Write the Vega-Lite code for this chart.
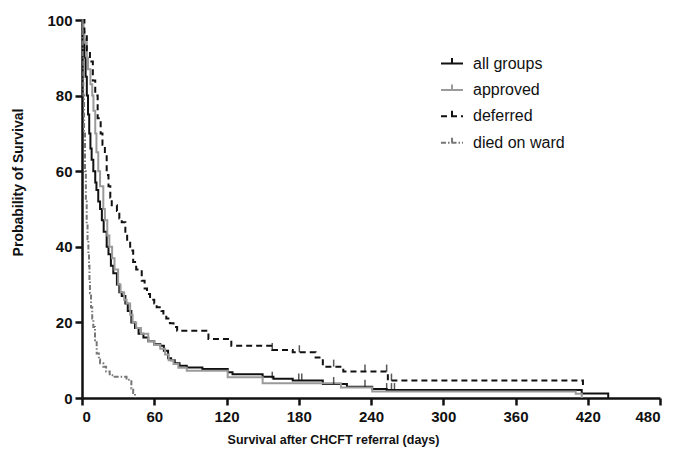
{
  "$schema": "https://vega.github.io/schema/vega-lite/v6.json",
  "autosize": {"type": "none"},
  "width": 578,
  "height": 378,
  "padding": {"left": 82, "top": 20, "right": 16, "bottom": 72},
  "background": "white",
  "config": {
    "view": {"stroke": null},
    "axis": {
      "grid": false,
      "domainColor": "#111",
      "domainWidth": 2.5,
      "tickColor": "#111",
      "tickWidth": 2.5,
      "labelFont": "Liberation Sans",
      "labelFontWeight": "bold",
      "labelFontSize": 15,
      "labelColor": "#111",
      "titleFont": "Liberation Sans",
      "titleFontWeight": "bold",
      "titleColor": "#111"
    }
  },
  "datasets": {
    "curves": [
      {"group": "all groups", "day": 0, "surv": 100},
      {"group": "all groups", "day": 1, "surv": 95},
      {"group": "all groups", "day": 2, "surv": 90},
      {"group": "all groups", "day": 3, "surv": 85},
      {"group": "all groups", "day": 4, "surv": 80},
      {"group": "all groups", "day": 5, "surv": 75},
      {"group": "all groups", "day": 6, "surv": 70},
      {"group": "all groups", "day": 7, "surv": 66},
      {"group": "all groups", "day": 8, "surv": 63},
      {"group": "all groups", "day": 9.4, "surv": 60},
      {"group": "all groups", "day": 11, "surv": 57},
      {"group": "all groups", "day": 12, "surv": 55},
      {"group": "all groups", "day": 13.5, "surv": 52},
      {"group": "all groups", "day": 15, "surv": 50},
      {"group": "all groups", "day": 16.5, "surv": 47},
      {"group": "all groups", "day": 18, "surv": 44},
      {"group": "all groups", "day": 20.5, "surv": 40},
      {"group": "all groups", "day": 22, "surv": 38},
      {"group": "all groups", "day": 24, "surv": 35},
      {"group": "all groups", "day": 26, "surv": 33},
      {"group": "all groups", "day": 29, "surv": 30},
      {"group": "all groups", "day": 31, "surv": 28},
      {"group": "all groups", "day": 33, "surv": 27},
      {"group": "all groups", "day": 36, "surv": 25},
      {"group": "all groups", "day": 38, "surv": 23},
      {"group": "all groups", "day": 41, "surv": 20},
      {"group": "all groups", "day": 44, "surv": 18.5},
      {"group": "all groups", "day": 47, "surv": 17},
      {"group": "all groups", "day": 51, "surv": 16},
      {"group": "all groups", "day": 55, "surv": 15},
      {"group": "all groups", "day": 60, "surv": 14.2},
      {"group": "all groups", "day": 65, "surv": 13.8},
      {"group": "all groups", "day": 68, "surv": 12.5},
      {"group": "all groups", "day": 71.5, "surv": 10.5},
      {"group": "all groups", "day": 74, "surv": 10},
      {"group": "all groups", "day": 77, "surv": 9.2},
      {"group": "all groups", "day": 81, "surv": 8.5},
      {"group": "all groups", "day": 87, "surv": 8.1},
      {"group": "all groups", "day": 100, "surv": 7.7},
      {"group": "all groups", "day": 121, "surv": 6.8},
      {"group": "all groups", "day": 125, "surv": 6.3},
      {"group": "all groups", "day": 150, "surv": 5.6},
      {"group": "all groups", "day": 159, "surv": 5.1},
      {"group": "all groups", "day": 175, "surv": 4.6},
      {"group": "all groups", "day": 200, "surv": 3.7},
      {"group": "all groups", "day": 220, "surv": 3.0},
      {"group": "all groups", "day": 241, "surv": 2.4},
      {"group": "all groups", "day": 253, "surv": 2.1},
      {"group": "all groups", "day": 415, "surv": 1.2},
      {"group": "all groups", "day": 437, "surv": 0},

      {"group": "approved", "day": 0, "surv": 100},
      {"group": "approved", "day": 1, "surv": 97},
      {"group": "approved", "day": 2, "surv": 94},
      {"group": "approved", "day": 4, "surv": 90},
      {"group": "approved", "day": 5, "surv": 87},
      {"group": "approved", "day": 7, "surv": 83},
      {"group": "approved", "day": 8.5, "surv": 80},
      {"group": "approved", "day": 9.5, "surv": 76},
      {"group": "approved", "day": 11, "surv": 70},
      {"group": "approved", "day": 12, "surv": 65},
      {"group": "approved", "day": 13.5, "surv": 60},
      {"group": "approved", "day": 15, "surv": 56},
      {"group": "approved", "day": 17.7, "surv": 50},
      {"group": "approved", "day": 19, "surv": 47},
      {"group": "approved", "day": 21, "surv": 43},
      {"group": "approved", "day": 22.7, "surv": 40},
      {"group": "approved", "day": 25, "surv": 37},
      {"group": "approved", "day": 27, "surv": 34},
      {"group": "approved", "day": 30, "surv": 30},
      {"group": "approved", "day": 32, "surv": 28},
      {"group": "approved", "day": 35, "surv": 26},
      {"group": "approved", "day": 37, "surv": 25},
      {"group": "approved", "day": 40, "surv": 22},
      {"group": "approved", "day": 42, "surv": 20},
      {"group": "approved", "day": 45, "surv": 18.5},
      {"group": "approved", "day": 49, "surv": 17},
      {"group": "approved", "day": 55, "surv": 15},
      {"group": "approved", "day": 60, "surv": 14},
      {"group": "approved", "day": 65, "surv": 13},
      {"group": "approved", "day": 69, "surv": 11.5},
      {"group": "approved", "day": 72, "surv": 10},
      {"group": "approved", "day": 76, "surv": 9},
      {"group": "approved", "day": 80, "surv": 8},
      {"group": "approved", "day": 87, "surv": 7.2},
      {"group": "approved", "day": 121, "surv": 5.5},
      {"group": "approved", "day": 150, "surv": 3.9},
      {"group": "approved", "day": 215, "surv": 2.8},
      {"group": "approved", "day": 241, "surv": 1.7},
      {"group": "approved", "day": 410, "surv": 1.1},
      {"group": "approved", "day": 415, "surv": 0},

      {"group": "deferred", "day": 0, "surv": 100},
      {"group": "deferred", "day": 2, "surv": 96},
      {"group": "deferred", "day": 4, "surv": 92},
      {"group": "deferred", "day": 6.6, "surv": 89},
      {"group": "deferred", "day": 9, "surv": 84},
      {"group": "deferred", "day": 11, "surv": 80},
      {"group": "deferred", "day": 13, "surv": 74},
      {"group": "deferred", "day": 15.5, "surv": 70},
      {"group": "deferred", "day": 17, "surv": 67},
      {"group": "deferred", "day": 19, "surv": 64.7},
      {"group": "deferred", "day": 20.5, "surv": 59},
      {"group": "deferred", "day": 22, "surv": 56},
      {"group": "deferred", "day": 23.5, "surv": 53},
      {"group": "deferred", "day": 24.7, "surv": 51},
      {"group": "deferred", "day": 29, "surv": 49.5},
      {"group": "deferred", "day": 31, "surv": 47.5},
      {"group": "deferred", "day": 33, "surv": 46.5},
      {"group": "deferred", "day": 36, "surv": 44},
      {"group": "deferred", "day": 37.5, "surv": 41.5},
      {"group": "deferred", "day": 40, "surv": 39},
      {"group": "deferred", "day": 42.5, "surv": 36},
      {"group": "deferred", "day": 45, "surv": 34},
      {"group": "deferred", "day": 49.6, "surv": 31},
      {"group": "deferred", "day": 52, "surv": 29},
      {"group": "deferred", "day": 54, "surv": 27.5},
      {"group": "deferred", "day": 56.5, "surv": 26},
      {"group": "deferred", "day": 60, "surv": 25},
      {"group": "deferred", "day": 62, "surv": 24},
      {"group": "deferred", "day": 66, "surv": 23},
      {"group": "deferred", "day": 67.6, "surv": 22},
      {"group": "deferred", "day": 70, "surv": 21},
      {"group": "deferred", "day": 73, "surv": 19.8},
      {"group": "deferred", "day": 76, "surv": 18.8},
      {"group": "deferred", "day": 79, "surv": 17.8},
      {"group": "deferred", "day": 105, "surv": 15.6},
      {"group": "deferred", "day": 124, "surv": 13.8},
      {"group": "deferred", "day": 158, "surv": 12.7},
      {"group": "deferred", "day": 175, "surv": 12.1},
      {"group": "deferred", "day": 194, "surv": 10.7},
      {"group": "deferred", "day": 200, "surv": 8.3},
      {"group": "deferred", "day": 217, "surv": 7.0},
      {"group": "deferred", "day": 254, "surv": 4.6},
      {"group": "deferred", "day": 416, "surv": 2.5},

      {"group": "died on ward", "day": 0, "surv": 100},
      {"group": "died on ward", "day": 0.5, "surv": 90},
      {"group": "died on ward", "day": 1.1, "surv": 80},
      {"group": "died on ward", "day": 1.7, "surv": 70},
      {"group": "died on ward", "day": 2.5, "surv": 60},
      {"group": "died on ward", "day": 3.2, "surv": 52},
      {"group": "died on ward", "day": 3.9, "surv": 46},
      {"group": "died on ward", "day": 4.6, "surv": 42},
      {"group": "died on ward", "day": 5.3, "surv": 38},
      {"group": "died on ward", "day": 5.8, "surv": 35},
      {"group": "died on ward", "day": 6.2, "surv": 31},
      {"group": "died on ward", "day": 6.6, "surv": 27.7},
      {"group": "died on ward", "day": 7.5, "surv": 24},
      {"group": "died on ward", "day": 8.5, "surv": 21},
      {"group": "died on ward", "day": 9.4, "surv": 18.8},
      {"group": "died on ward", "day": 10.8, "surv": 15.3},
      {"group": "died on ward", "day": 12.2, "surv": 11.8},
      {"group": "died on ward", "day": 14, "surv": 10.2},
      {"group": "died on ward", "day": 15, "surv": 9.2},
      {"group": "died on ward", "day": 17.7, "surv": 8.3},
      {"group": "died on ward", "day": 20, "surv": 7},
      {"group": "died on ward", "day": 23, "surv": 6},
      {"group": "died on ward", "day": 26, "surv": 5.6},
      {"group": "died on ward", "day": 37, "surv": 4.8},
      {"group": "died on ward", "day": 41, "surv": 2.5},
      {"group": "died on ward", "day": 42.5, "surv": 1.3},
      {"group": "died on ward", "day": 44, "surv": 0}
    ],
    "censors": [
      {"group": "deferred", "day": 158, "surv": 12.7},
      {"group": "deferred", "day": 180.5, "surv": 12.1},
      {"group": "deferred", "day": 209, "surv": 8.3},
      {"group": "deferred", "day": 235, "surv": 7.0},
      {"group": "deferred", "day": 253, "surv": 7.0},
      {"group": "deferred", "day": 257, "surv": 4.6},
      {"group": "all groups", "day": 158, "surv": 5.1},
      {"group": "all groups", "day": 180, "surv": 4.6},
      {"group": "all groups", "day": 182.5, "surv": 4.6},
      {"group": "all groups", "day": 209, "surv": 3.7},
      {"group": "all groups", "day": 235, "surv": 3.0},
      {"group": "all groups", "day": 253, "surv": 2.1},
      {"group": "all groups", "day": 257, "surv": 2.1},
      {"group": "all groups", "day": 259.5, "surv": 2.1}
    ]
  },
  "layer": [
    {
      "data": {"name": "curves"},
      "mark": {"type": "line", "interpolate": "step-after"},
      "encoding": {
        "x": {
          "field": "day", "type": "quantitative",
          "scale": {"domain": [0, 480], "nice": false},
          "axis": {
            "values": [0,30,60,90,120,150,180,210,240,270,300,330,360,390,420,450,480],
            "labelExpr": "datum.value % 60 === 0 ? datum.label : ''",
            "tickSize": {"condition": {"test": "datum.value % 60 === 0", "value": 7}, "value": 4},
            "labelPadding": 4,
            "title": "Survival after CHCFT referral (days)",
            "titleFontSize": 12.5,
            "titleX": 251,
            "titleY": 45,
            "titleAnchor": "middle",
            "titleBaseline": "alphabetic"
          }
        },
        "y": {
          "field": "surv", "type": "quantitative",
          "scale": {"domain": [0, 100], "nice": false},
          "axis": {
            "values": [0,10,20,30,40,50,60,70,80,90,100],
            "labelExpr": "datum.value % 20 === 0 ? datum.label : ''",
            "tickSize": {"condition": {"test": "datum.value % 20 === 0", "value": 7}, "value": 4},
            "labelPadding": 3,
            "title": "Probability of Survival",
            "titleFontSize": 14,
            "titleX": -60,
            "titleY": 162,
            "titleAnchor": "middle",
            "titleBaseline": "alphabetic"
          }
        },
        "color": {
          "field": "group", "type": "nominal",
          "scale": {
            "domain": ["all groups", "approved", "deferred", "died on ward"],
            "range": ["#111111", "#9a9a9a", "#111111", "#777777"]
          },
          "legend": {
            "title": null,
            "orient": "none",
            "legendX": 358,
            "legendY": 31.5,
            "padding": 0,
            "symbolType": "M-1,0L1,0M0,0L0,-0.5",
            "symbolSize": 484,
            "symbolFillColor": "transparent",
            "labelFont": "Liberation Sans",
            "labelFontSize": 16,
            "labelColor": "#111",
            "labelOffset": 9,
            "rowPadding": 6.4
          }
        },
        "strokeDash": {
          "field": "group", "type": "nominal",
          "scale": {
            "domain": ["all groups", "approved", "deferred", "died on ward"],
            "range": [[1, 0], [1, 0], [6, 4], [5, 2, 1.5, 2]]
          }
        },
        "strokeWidth": {
          "field": "group", "type": "nominal",
          "scale": {
            "domain": ["all groups", "approved", "deferred", "died on ward"],
            "range": [2, 2, 2, 1.5]
          }
        }
      }
    },
    {
      "data": {"name": "censors"},
      "mark": {"type": "tick", "orient": "vertical", "size": 7, "thickness": 1.5, "yOffset": -3.5, "color": "#111"},
      "encoding": {
        "x": {"field": "day", "type": "quantitative"},
        "y": {"field": "surv", "type": "quantitative"}
      }
    }
  ]
}
